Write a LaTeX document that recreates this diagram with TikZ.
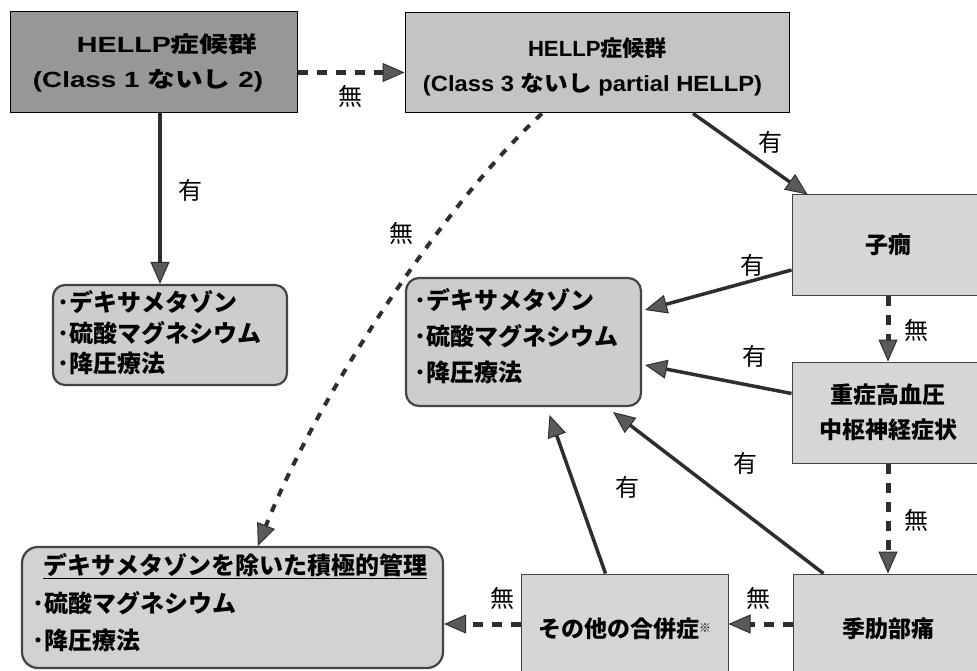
\documentclass[tikz,border=0pt]{standalone}
\usepackage{fontspec}
\usepackage{graphicx}
\usetikzlibrary{arrows.meta,calc}
\newfontfamily\jp{Noto Sans CJK JP}
\newfontfamily\lat{Liberation Sans}
\newcommand{\fw}[2]{\resizebox{#1}{\height}{#2}}
\newcommand{\myul}[1]{\vtop{\hbox{#1}\kern0.6pt\hrule height 1.6pt}}
\definecolor{cA}{HTML}{979797}
\definecolor{cB}{HTML}{C4C4C4}
\definecolor{cT}{HTML}{CDCDCD}
\definecolor{cH}{HTML}{D2D2D2}
\definecolor{cR}{HTML}{D6D6D6}
\definecolor{lineC}{HTML}{2E2E2E}
\definecolor{headC}{HTML}{5A5A5A}
\definecolor{bordC}{HTML}{444444}
\tikzset{
  boxA/.style={draw=black, line width=1pt, fill=cA, inner sep=0pt},
  boxB/.style={draw=black, line width=1pt, fill=cB, inner sep=0pt},
  tbox/.style={draw=bordC, line width=2.2pt, fill=cT, inner sep=0pt},
  hbox/.style={draw=bordC, line width=2.2pt, fill=cH, inner sep=0pt},
  rtbox/.style={draw=bordC, line width=1pt, fill=cR, inner sep=0pt, align=center,
     font=\jp\bfseries\fontsize{23}{35}\selectfont},
  toptxt/.style={inner sep=0pt, font=\jp\bfseries\fontsize{22}{22}\selectfont},
  listtxt/.style={inner sep=0pt, anchor=west, align=left},
  lbl/.style={inner sep=0pt, font=\jp\fontsize{24}{24}\selectfont},
  sarr/.style={draw=lineC, line width=3.5pt,
     -{Triangle[length=22pt,width=19pt,line width=1pt,fill=headC]}},
  darr/.style={draw=lineC, line width=5pt, dash pattern=on 10pt off 9pt,
     -{Triangle[length=22pt,width=19pt,line width=1pt,fill=headC]}},
  carr/.style={draw=lineC, line width=4pt, dash pattern=on 8pt off 9pt,
     -{Triangle[length=22pt,width=19pt,line width=1pt,fill=headC]}},
}
\begin{document}
\begin{tikzpicture}[x=1pt,y=-1pt]
\useasboundingbox (0,0) rectangle (977,671);
\clip (0,0) rectangle (977,671);
\fill[white] (0,0) rectangle (977,671);

% boxes
\node[boxA, minimum width=287pt, minimum height=101pt] (A) at (153.5,62.5) {};
\node[boxB, minimum width=384pt, minimum height=100pt] (B) at (597,63) {};
\node[tbox, rounded corners=12pt, minimum width=234pt, minimum height=100pt] (C) at (170,335) {};
\node[tbox, rounded corners=13pt, minimum width=235pt, minimum height=128pt] (D) at (523.5,342) {};
\node[hbox, rounded corners=16pt, minimum width=421pt, minimum height=121pt] (H) at (232.5,607.5) {};
\node[rtbox, minimum width=192pt, minimum height=100pt] (E) at (888,245) {子癇};
\node[rtbox, minimum width=192pt, minimum height=101pt] (F) at (888,412.5) {重症高血圧\\中枢神経症状};
\node[rtbox, minimum width=191pt, minimum height=110pt] (G) at (888.5,629) {季肋部痛};
\node[rtbox, minimum width=207pt, minimum height=110pt] (O) at (624.5,629)
  {その他の合併症\raisebox{5pt}{\fontsize{12}{12}\selectfont ※}};

% texts of top boxes
\node[toptxt] (tA1) at (167,44) {\fw{180pt}{{\lat\bfseries HELLP}症候群}};
\node[toptxt] (tA2) at (148,81) {\fw{230pt}{{\lat\bfseries (Class 1~}ないし{\lat\bfseries ~2)}}};
\node[toptxt] (tB1) at (597.5,48) {\fw{139pt}{{\lat\bfseries HELLP}症候群}};
\node[toptxt] (tB2) at (592.5,85) {\fw{339pt}{{\lat\bfseries (Class 3~}ないし{\lat\bfseries ~partial HELLP)}}};

% list texts
\node[listtxt, font=\jp\bfseries\fontsize{24}{30.5}\selectfont] (Ct) at (57,333)
  {･デキサメタゾン\\･硫酸マグネシウム\\･降圧療法};
\node[listtxt, font=\jp\bfseries\fontsize{24}{36}\selectfont] (Dt) at (414,336)
  {･デキサメタゾン\\･硫酸マグネシウム\\･降圧療法};
\node[listtxt, font=\jp\bfseries\fontsize{24}{37.5}\selectfont] (Ht) at (32,603)
  {\hspace*{11pt}\myul{デキサメタゾンを除いた積極的管理}\\･硫酸マグネシウム\\･降圧療法};

% connectors
\draw[darr] ([yshift=-10pt]A.east) -- ([yshift=-10pt]A.east -| B.west);
\draw[sarr] ([xshift=6.5pt]A.south) -- ([xshift=6.5pt]A.south |- C.north);
\draw[sarr] ([xshift=96pt]B.south) -- ([xshift=16pt]E.north west);
\draw[sarr] ([yshift=-25pt]E.west) -- ([xshift=3pt,yshift=32pt]D.east);
\draw[sarr] ([yshift=19pt]F.west) -- ([xshift=3pt,yshift=-23pt]D.east);
\draw[sarr] ([xshift=31pt]G.north west) -- ([xshift=-29pt,yshift=-5pt]D.south east);
\draw[sarr] ([xshift=-19pt]O.north) -- ([xshift=26pt,yshift=-8pt]D.south);
\draw[darr] (E.south) -- (F.north);
\draw[darr] (F.south) -- (F.south |- G.north);
\draw[darr] ([yshift=5pt]G.west) -- ([yshift=5pt]G.west -| O.east);
\draw[darr] ([yshift=5pt]O.west) -- ([yshift=5pt]O.west -| H.east);
\draw[carr] ($(B.south west)!0.357!(B.south east)$) .. controls (443,205) and (318,395)
  .. ($(H.north west)!0.56!(H.north east)$);

% labels
\node[lbl] (l1) at (350,96) {無};
\node[lbl] (l2) at (190,190) {有};
\node[lbl] (l3) at (401,233) {無};
\node[lbl] (l4) at (770,142) {有};
\node[lbl] (l5) at (752,265) {有};
\node[lbl] (l6) at (754,356) {有};
\node[lbl] (l7) at (627,487) {有};
\node[lbl] (l8) at (745,463) {有};
\node[lbl] (l9) at (916,330) {無};
\node[lbl] (l10) at (916,520) {無};
\node[lbl] (l11) at (758,598) {無};
\node[lbl] (l12) at (502,598) {無};
\end{tikzpicture}
\end{document}
